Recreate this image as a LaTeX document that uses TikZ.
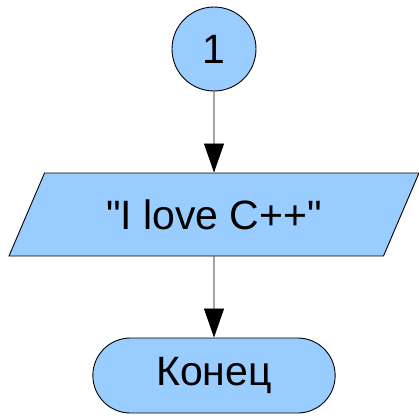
\documentclass[tikz,border=0pt]{standalone}
\usepackage{fontspec}
\setmainfont{Liberation Sans}
\usetikzlibrary{shapes.geometric,shapes.misc,arrows.meta}
\definecolor{blockblue}{RGB}{153,204,255}

\begin{document}
\begin{tikzpicture}[x=1pt,y=1pt,
    block/.style={draw,fill=blockblue,line width=0.9pt,font=\fontsize{41}{49}\selectfont},
    flow/.style={line width=0.9pt,-{Triangle[length=29pt,width=20pt]}}]
    \useasboundingbox (0,0) rectangle (419,-420);
    \node[block,circle,minimum size=84pt,inner sep=0pt] (1) at (214,-49) {1};
    \node[block,trapezium,trapezium left angle=46,trapezium right angle=134,
          trapezium stretches body,minimum width=410pt,minimum height=83pt] (2) at (214,-214.5)
          {\textquotedbl I love C++\textquotedbl};
    \node[block,rounded rectangle,minimum width=249pt,minimum height=75pt] (3) at (214,-375.5) {Конец};
    \draw[flow] (1) -- (2);
    \draw[flow] (2) -- (3);
\end{tikzpicture}
\end{document}
